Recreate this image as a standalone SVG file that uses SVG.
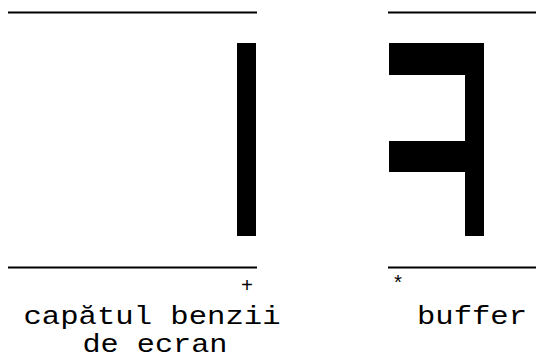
<svg xmlns="http://www.w3.org/2000/svg" width="536" height="362" viewBox="0 0 536 362">
<style>
.ln{stroke:#000;stroke-width:2.2;fill:none}
.blk{fill:#000}
.t{font-family:"Liberation Mono","Courier New",monospace;font-size:25px;fill:#000;text-anchor:middle}
.s{font-family:"Liberation Mono","Courier New",monospace;font-size:20px;fill:#000;text-anchor:middle}
</style>
<rect width="536" height="362" fill="#fff"/>
<g id="screen">
<line class="ln" x1="8" y1="12.5" x2="257" y2="12.5"/>
<rect class="blk" x="237" y="43" width="19" height="193"/>
<line class="ln" x1="8" y1="267.5" x2="257" y2="267.5"/>
<text class="s" x="247" y="292">+</text>
<text class="t" x="152" y="324" textLength="257" lengthAdjust="spacingAndGlyphs">capătul benzii</text>
<text class="t" x="155" y="352" textLength="145" lengthAdjust="spacingAndGlyphs">de ecran</text>
</g>
<g id="buffer">
<line class="ln" x1="388" y1="12.5" x2="536" y2="12.5"/>
<path class="blk" d="M389 43H484V236H465V172H389V141H465V75H389Z"/>
<line class="ln" x1="388" y1="267.5" x2="536" y2="267.5"/>
<text class="s" x="398" y="290">*</text>
<text class="t" x="472" y="324" textLength="110" lengthAdjust="spacingAndGlyphs">buffer</text>
</g>
</svg>
